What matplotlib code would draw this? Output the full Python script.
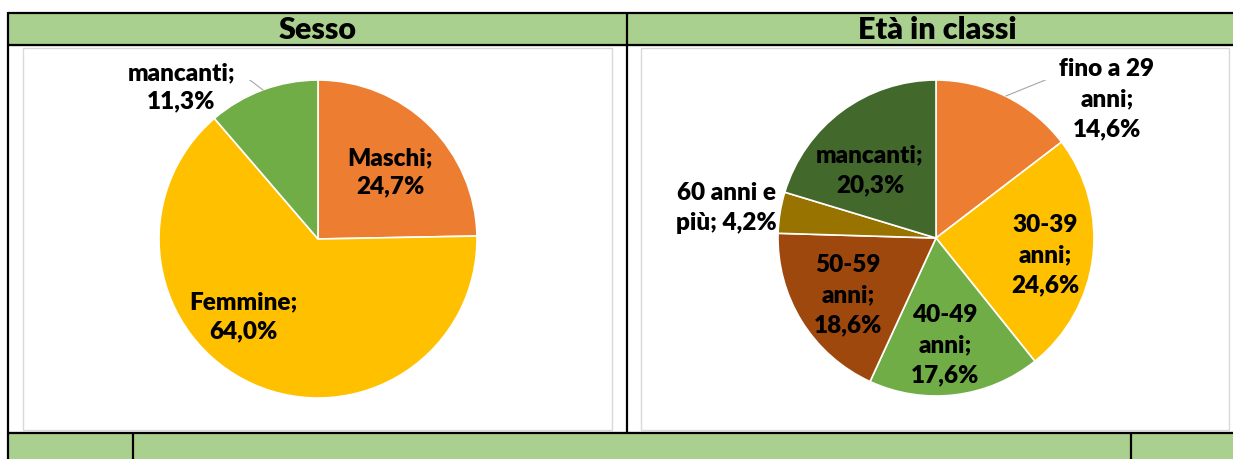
#!/usr/bin/env python3
# plot.py - two pies in an Excel-like table layout

import matplotlib.pyplot as plt
from matplotlib.patches import Rectangle

plt.rcParams["font.family"] = ["Lato", "DejaVu Sans"]

W, H = 1233, 459

# Data
sesso_cats = ["Maschi", "Femmine", "mancanti"]
sesso_vals = [24.7, 64.0, 11.3]
sesso_fmt = ["Maschi;\n{}", "Femmine;\n{}", "mancanti;\n{}"]

eta_cats = ["fino a 29 anni", "30-39 anni", "40-49 anni", "50-59 anni",
            "60 anni e più", "mancanti"]
eta_vals = [14.6, 24.6, 17.6, 18.6, 4.2, 20.3]
eta_fmt = ["fino a 29\nanni;\n{}", "30-39\nanni;\n{}", "40-49\nanni;\n{}",
           "50-59\nanni;\n{}", "60 anni e\npiù; {}", "mancanti;\n{}"]

# Styles / layout
sesso_colors = ["#ED7D31", "#FFC000", "#70AD47"]
eta_colors = ["#ED7D31", "#FFC000", "#70AD47", "#9E480E", "#997300", "#43682B"]
sesso_label_pos = [(0.453, 0.421), (-0.472, -0.49), (-0.86, 0.956)]
eta_label_pos = [(1.082, 0.88), (0.69, -0.108), (0.057, -0.677),
                 (-0.557, -0.361), (-1.329, 0.19), (-0.418, 0.43)]
GREEN = "#A9D08E"


def pct(v):
    return f"{v:.1f}%".replace(".", ",")


def px_axes(fig, cx, cy, r):
    return fig.add_axes([(cx - r) / W, (H - cy - r) / H, 2 * r / W, 2 * r / H])


def draw_pie(ax, vals, colors, fmts, positions, spacing):
    ax.pie(vals, colors=colors, startangle=90, counterclock=False, radius=1,
           wedgeprops=dict(edgecolor="white", linewidth=1.2))
    for f, v, (x, y) in zip(fmts, vals, positions):
        ax.text(x, y, f.format(pct(v)), ha="center", va="center",
                fontsize=17.5, fontweight="heavy", linespacing=spacing)
    ax.set_xlim(-1, 1)
    ax.set_ylim(-1, 1)
    ax.axis("off")


def draw_table(bg):
    bg.set_xlim(0, W)
    bg.set_ylim(H, 0)
    bg.axis("off")
    # header and footer cells
    bg.add_patch(Rectangle((8, 13), W - 8, 32, color=GREEN))
    bg.add_patch(Rectangle((8, 432), W - 8, H - 432, color=GREEN))
    # chart areas
    bg.add_patch(Rectangle((23, 48), 589, 382, facecolor="white",
                           edgecolor="#D9D9D9", lw=1))
    bg.add_patch(Rectangle((641, 48), 588, 382, facecolor="white",
                           edgecolor="#D9D9D9", lw=1))
    # grid lines
    kw = dict(color="black", lw=1.6, solid_capstyle="butt")
    for y in (13, 44.5, 432.5):
        bg.plot([8, W], [y, y], **kw)
    bg.plot([8.3, 8.3], [12, H], **kw)
    bg.plot([627, 627], [12, 433], **kw)
    bg.plot([133, 133], [432, H], **kw)
    bg.plot([1131, 1131], [432, H], **kw)
    bg.text(318, 30, "Sesso", ha="center", va="center", fontsize=22,
            fontweight="heavy")
    bg.text(937, 30, "Età in classi", ha="center", va="center", fontsize=22,
            fontweight="heavy")


def main():
    fig = plt.figure(figsize=(W / 100, H / 100), dpi=100)
    bg = fig.add_axes([0, 0, 1, 1])
    draw_table(bg)

    ax1 = px_axes(fig, 318, 239, 159)
    draw_pie(ax1, sesso_vals, sesso_colors, sesso_fmt, sesso_label_pos, 1.35)
    ax1.plot([-0.478, -0.346], [1.038, 0.937], color="#A6A6A6", lw=0.8)

    ax2 = px_axes(fig, 936, 238, 158)
    draw_pie(ax2, eta_vals, eta_colors, eta_fmt, eta_label_pos, 1.45)
    ax2.plot([0.785, 0.443], [1.038, 0.899], color="#A6A6A6", lw=0.8)

    fig.savefig("out.png", dpi=100)


if __name__ == "__main__":
    main()
